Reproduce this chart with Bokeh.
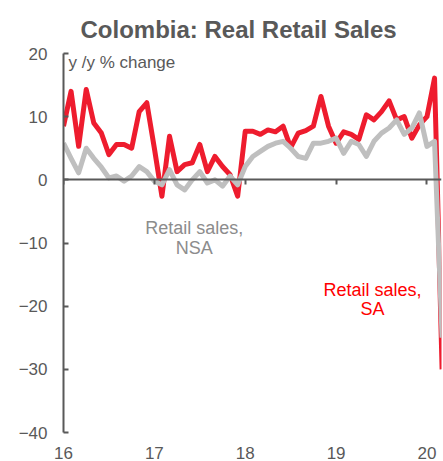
from bokeh.plotting import figure
from bokeh.models import Range1d, LinearAxis, FixedTicker, Label, Title
from bokeh.embed import file_html
from bokeh.resources import INLINE
from bokeh.core.properties import value

# Monthly, Jan 2016 .. Mar 2020 (x in "years since 2000")
months = [16 + i / 12 for i in range(51)]

retail_sa = [8.5, 14.0, 5.3, 14.3, 9.0, 7.4, 4.0, 5.6, 5.6, 5.0, 10.8, 12.2,
             5.0, -2.6, 6.9, 1.3, 2.4, 2.7, 5.6, 1.3, 3.7, 2.1, 0.8, -2.6,
             7.7, 7.7, 7.2, 7.9, 7.6, 8.5, 5.1, 7.4, 7.8, 8.5, 13.2, 8.5,
             5.8, 7.6, 7.2, 6.4, 10.3, 9.5, 10.8, 12.5, 9.5, 10.0, 6.6, 8.7,
             10.0, 16.1, -30.0]

retail_nsa = [5.8, 3.4, 1.1, 5.0, 3.4, 2.0, 0.3, 0.6, -0.2, 0.6, 2.1, 1.3,
              -0.2, -0.8, 1.6, -0.8, -1.6, 0.0, 1.3, -0.5, 0.0, -1.0, 0.6, -0.8,
              2.1, 3.7, 4.5, 5.3, 5.8, 6.1, 5.0, 3.7, 3.4, 5.8, 5.8, 6.1,
              6.6, 4.2, 6.1, 5.6, 3.7, 6.1, 7.4, 8.2, 9.5, 7.2, 8.2, 10.6,
              5.3, 6.1, -25.0]

y_ticks = [-40, -30, -20, -10, 0, 10, 20]
x_ticks = [16, 17, 18, 19, 20]

TXT = "#595959"
FONT = "Liberation Sans"

p = figure(width=443, height=461, output_backend="svg", toolbar_location=None,
           x_range=Range1d(16, 20.16), y_range=Range1d(-40, 20),
           x_axis_type=None, y_axis_type=None,
           min_border_left=63, min_border_right=2, min_border_top=53, min_border_bottom=29)
p.outline_line_color = None
p.xgrid.visible = False
p.ygrid.visible = False
p.background_fill_color = "white"
p.border_fill_color = "white"

p.add_layout(Title(text="Colombia:  Real Retail Sales", align="left", offset=17,
                   text_font=FONT, text_font_size="24px", text_font_style="bold",
                   text_color=TXT, standoff=22), "above")

# y axis
yax = LinearAxis(ticker=FixedTicker(ticks=y_ticks))
yax.axis_line_color = TXT
yax.axis_line_width = 2
yax.major_tick_line_color = TXT
yax.major_tick_line_width = 2
yax.major_tick_in = 5
yax.major_tick_out = 0
yax.minor_tick_line_color = None
yax.major_label_text_font = FONT
yax.major_label_text_font_size = "17px"
yax.major_label_text_color = TXT
yax.major_label_standoff = 16
p.add_layout(yax, "left")

# x axis line at zero (ticks, no labels)
x0 = LinearAxis(ticker=FixedTicker(ticks=x_ticks), fixed_location=0)
x0.axis_line_color = TXT
x0.axis_line_width = 2
x0.major_tick_line_color = TXT
x0.major_tick_line_width = 2
x0.major_tick_in = 0
x0.major_tick_out = 5
x0.minor_tick_line_color = None
x0.major_label_text_alpha = 0
x0.major_label_text_font_size = "1px"
p.add_layout(x0, "below")

# x labels at bottom
xb = LinearAxis(ticker=FixedTicker(ticks=x_ticks))
xb.axis_line_color = None
xb.major_tick_line_color = None
xb.minor_tick_line_color = None
xb.major_label_text_font = FONT
xb.major_label_text_font_size = "17px"
xb.major_label_text_color = TXT
xb.major_label_standoff = 8
p.add_layout(xb, "below")

p.line(months, retail_sa, line_color="#ee1c2e", line_width=5, line_join="round")
p.line(months, retail_nsa, line_color="#bfbfbf", line_width=5, line_join="round")

p.add_layout(Label(x=16, y=20, x_offset=5, y_offset=1, text="y /y  % change",
                   text_font=FONT, text_font_size="17px", text_color=TXT,
                   text_baseline="top"))

p.text(x=[17.44, 17.44], y=[-7.7, -10.85], text=["Retail sales,", "NSA"],
       text_font=value(FONT), text_font_size="18px", text_color="#8c8c8c",
       text_align="center", text_baseline="middle")
p.text(x=[19.40, 19.40], y=[-17.5, -20.5], text=["Retail sales,", "SA"],
       text_font=value(FONT), text_font_size="18px", text_color="#ff0000",
       text_align="center", text_baseline="middle")

open("out.html", "w").write(file_html(p, INLINE))
